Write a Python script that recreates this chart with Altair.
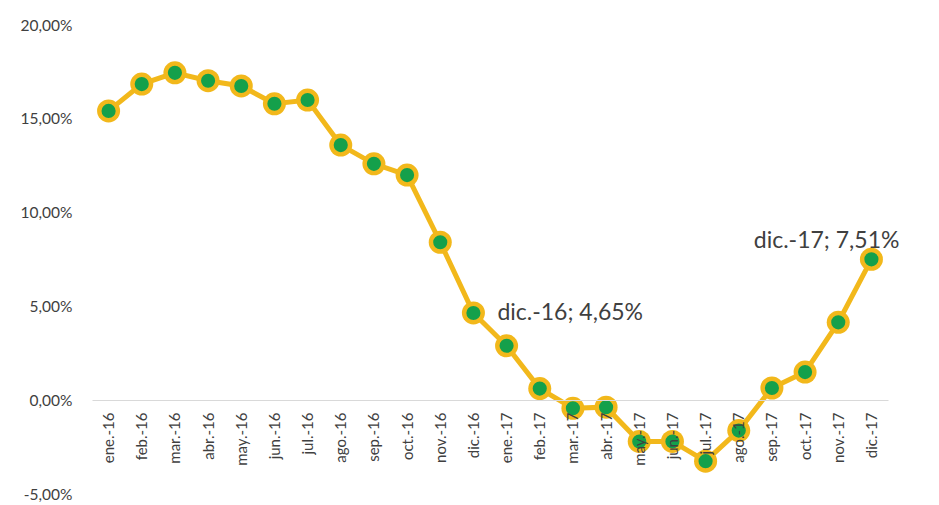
import altair as alt
import pandas as pd

months = ["ene.-16", "feb.-16", "mar.-16", "abr.-16", "may.-16", "jun.-16",
          "jul.-16", "ago.-16", "sep.-16", "oct.-16", "nov.-16", "dic.-16",
          "ene.-17", "feb.-17", "mar.-17", "abr.-17", "may.-17", "jun.-17",
          "jul.-17", "ago.-17", "sep.-17", "oct.-17", "nov.-17", "dic.-17"]
values = [15.42, 16.85, 17.45, 17.03, 16.75, 15.80,
          16.00, 13.60, 12.60, 12.00, 8.42, 4.65,
          2.90, 0.62, -0.43, -0.37, -2.20, -2.20,
          -3.25, -1.62, 0.65, 1.50, 4.15, 7.51]
labeled = ["dic.-16", "dic.-17"]
y_ticks = [-5, 0, 5, 10, 15, 20]

df = pd.DataFrame({"mes": months, "valor": values})
df["etiqueta"] = [f"{m}; " + f"{v:.2f}".replace(".", ",") + "%" for m, v in zip(months, values)]

YELLOW = "#F2B81B"
GREEN = "#14A04B"
FONT = "Lato"
TXT = "#404040"

xscale = alt.Scale(type="point", padding=0.5)
x = alt.X("mes:O", sort=months, scale=xscale,
          axis=alt.Axis(title=None, labelAngle=270, labelAlign="right",
                        labelBaseline="middle", labelPadding=12,
                        labelFontSize=15, labelColor=TXT, labelFont=FONT,
                        ticks=False, domainColor="#D9D9D9", domainWidth=1,
                        offset=-94, zindex=1))
y = alt.Y("valor:Q", scale=alt.Scale(domain=[-5, 20], nice=False, zero=False),
          axis=alt.Axis(title=None, values=y_ticks, grid=False, domain=False,
                        ticks=False, labelPadding=20, labelFontSize=15.5,
                        labelColor=TXT, labelFont=FONT,
                        labelExpr="(datum.value < 0 ? '-' : '') + replace(format(abs(datum.value), '.2f'), '.', ',') + '%'"))

base = alt.Chart(df).encode(x=x, y=y)
line = base.mark_line(color=YELLOW, strokeWidth=5)
outer = base.mark_circle(color=YELLOW, opacity=1, size=530)
inner = base.mark_circle(color=GREEN, opacity=1, size=200)

t16 = alt.Chart(df[df["mes"] == labeled[0]]).mark_text(
    align="left", baseline="middle", dx=24, dy=0, fontSize=23, font=FONT,
    color=TXT).encode(x=alt.X("mes:O", sort=months, scale=xscale),
                      y="valor:Q", text="etiqueta:N")
t17 = alt.Chart(df[df["mes"] == labeled[1]]).mark_text(
    align="right", baseline="middle", dx=28, dy=-18, fontSize=23, font=FONT,
    color=TXT).encode(x=alt.X("mes:O", sort=months, scale=xscale),
                      y="valor:Q", text="etiqueta:N")

chart = alt.layer(line, outer, inner, t16, t17).properties(
    width=796, height=469,
    autosize=alt.AutoSizeParams(type="none"),
    padding={"left": 92, "top": 25, "right": 51, "bottom": 11},
    background="white",
).configure_view(stroke=None)

chart.save("out.html", embed_options={"renderer": "svg", "actions": False})
